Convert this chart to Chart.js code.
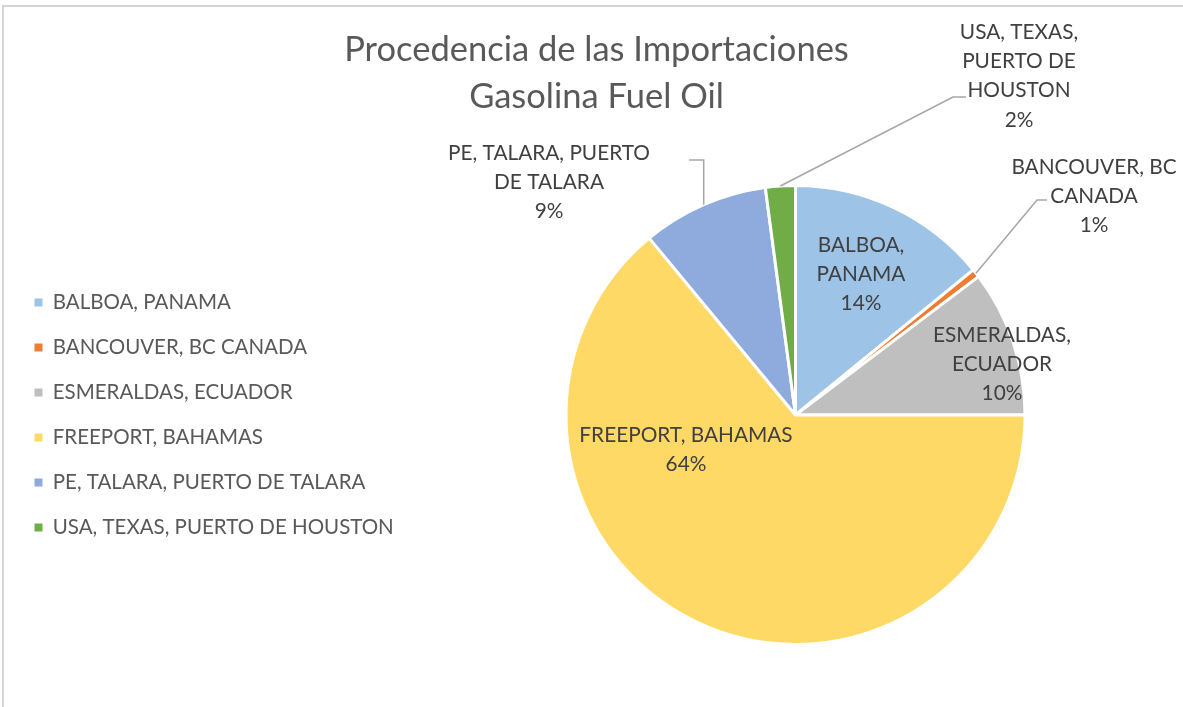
<!DOCTYPE html>
<html><head><meta charset="utf-8">
<script src="https://cdn.jsdelivr.net/npm/chart.js@4.4.1/dist/chart.umd.min.js"></script>
<style>
html,body{margin:0;padding:0;background:#fff;}
#frame{position:absolute;left:2px;top:5px;width:1200px;height:720px;border-left:2px solid #d4d4d4;border-top:2px solid #d4d4d4;}
#wrap{position:absolute;left:0;top:0;width:1183px;height:707px;}
</style></head>
<body>
<div id="frame"></div>
<div id="wrap"><canvas id="c" width="1183" height="707"></canvas></div>
<script>
const categories = ['BALBOA, PANAMA','BANCOUVER, BC CANADA','ESMERALDAS, ECUADOR','FREEPORT, BAHAMAS','PE, TALARA, PUERTO DE TALARA','USA, TEXAS, PUERTO DE HOUSTON'];
const values = [14.1, 0.6, 10.3, 64.0, 8.9, 2.1];
const percentLabels = ['14%','1%','10%','64%','9%','2%'];
const labelLines = [['BALBOA,','PANAMA'],['BANCOUVER, BC','CANADA'],['ESMERALDAS,','ECUADOR'],['FREEPORT, BAHAMAS'],['PE, TALARA, PUERTO','DE TALARA'],['USA, TEXAS,','PUERTO DE','HOUSTON']];
const colors = ['#9DC3E6','#ED7D31','#BFBFBF','#FFD966','#8FAADC','#70AD47'];
const titleLines = ['Procedencia de las Importaciones','Gasolina Fuel Oil'];

const FONT = 'Lato';

// label placement (text block centre x, first line centre y) and leader geometry
const labelPos = [
  {x:861, y:245},
  {x:1094, y:167, leader:[[1037,200],[1047,200]]},
  {x:1002, y:335},
  {x:686, y:435},
  {x:549, y:153, leader:'vert', elbowY:160, endX:689},
  {x:1019, y:32, leader:[[953,97],[966,97]]}
];

const pieCentreX = 795.5;
const areaShift = {
  id:'areaShift',
  afterLayout(chart){
    const a=chart.chartArea;
    a.left = 2*pieCentreX - a.right;
    a.width = a.right - a.left;
  }
};

const labelPlugin = {
  id:'sliceLabels',
  afterDatasetsDraw(chart){
    const ctx=chart.ctx;
    const meta=chart.getDatasetMeta(0);
    ctx.save();
    meta.data.forEach((arc,i)=>{
      const p=labelPos[i];
      const mid=(arc.startAngle+arc.endAngle)/2;
      const ax=arc.x+arc.outerRadius*Math.cos(mid);
      const ay=arc.y+arc.outerRadius*Math.sin(mid);
      if(p.leader){
        ctx.strokeStyle='#A6A6A6';ctx.lineWidth=1.5;ctx.beginPath();
        ctx.moveTo(ax,ay);
        if(p.leader==='vert'){ctx.lineTo(ax,p.elbowY);ctx.lineTo(p.endX,p.elbowY);}
        else{p.leader.forEach(pt=>ctx.lineTo(pt[0],pt[1]));}
        ctx.stroke();
      }
      ctx.fillStyle='#404040';
      ctx.font='20.8px "'+FONT+'"';
      ctx.textAlign='center';ctx.textBaseline='middle';
      const lines=labelLines[i].concat([percentLabels[i]]);
      lines.forEach((t,k)=>ctx.fillText(t,p.x,p.y+k*29.3));
    });
    ctx.restore();
  }
};

new Chart(document.getElementById('c'),{
  type:'pie',
  data:{labels:categories,datasets:[{data:values,backgroundColor:colors,borderColor:'#ffffff',borderWidth:3}]},
  options:{
    responsive:false,animation:false,
    layout:{padding:{left:10,right:0,top:0,bottom:61}},
    plugins:{
      tooltip:{enabled:false},
      title:{display:true,text:titleLines,color:'#595959',font:{family:FONT,size:34.5,weight:'normal',lineHeight:47/34.5},padding:{top:26,bottom:64}},
      legend:{position:'left',align:'center',fullSize:false,
        labels:{color:'#595959',font:{family:FONT,size:20.5},boxWidth:8,boxHeight:8,padding:24.5,
          generateLabels(chart){const l=Chart.overrides.pie.plugins.legend.labels.generateLabels(chart);l.forEach(x=>{x.lineWidth=0;x.strokeStyle='rgba(0,0,0,0)';});return l;}}}
    }
  },
  plugins:[areaShift,labelPlugin]
});
</script>
</body></html>
